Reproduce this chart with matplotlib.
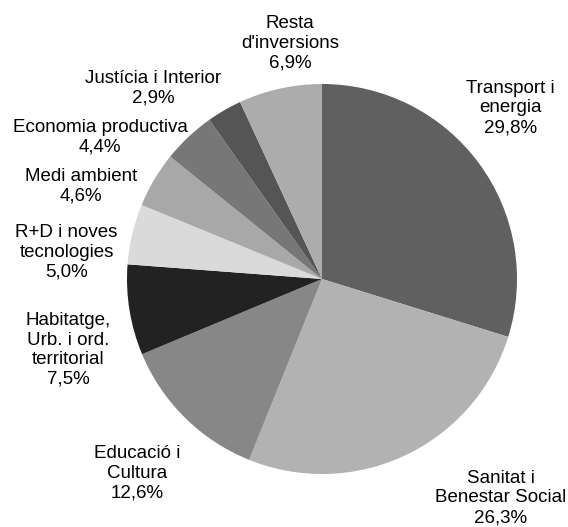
import matplotlib
matplotlib.use("Agg")
import matplotlib.pyplot as plt

plt.rcParams["font.family"] = ["Liberation Sans", "DejaVu Sans"]

# Distribució de les inversions per àmbits (%)
categories = [
    "Transport i\nenergia",
    "Sanitat i\nBenestar Social",
    "Educació i\nCultura",
    "Habitatge,\nUrb. i ord.\nterritorial",
    "R+D i noves\ntecnologies",
    "Medi ambient",
    "Economia productiva",
    "Justícia i Interior",
    "Resta\nd'inversions",
]
values = [29.8, 26.3, 12.6, 7.5, 5.0, 4.6, 4.4, 2.9, 6.9]
value_labels = ["29,8%", "26,3%", "12,6%", "7,5%", "5,0%", "4,6%", "4,4%", "2,9%", "6,9%"]

colors = ["#606060", "#b2b2b2", "#878787", "#222222", "#dadada",
          "#a8a8a8", "#777777", "#555555", "#acacac"]

# posició dels rètols (unitats del radi)
label_xy = [(0.968, 0.877), (0.918, -1.123), (-0.946, -0.995),
            (-1.303, -0.364), (-1.310, 0.138), (-1.236, 0.477),
            (-1.138, 0.728), (-0.867, 0.977), (-0.164, 1.210)]

fig = plt.figure(figsize=(5.68, 5.27), dpi=100)
ax = fig.add_axes([0, 0, 1, 1])

ax.pie(values, colors=colors, startangle=90, counterclock=False,
       radius=1.0, wedgeprops=dict(linewidth=0))

for name, lab, (x, y) in zip(categories, value_labels, label_xy):
    ax.text(x, y, name + "\n" + lab, ha="center", va="center",
            multialignment="center", fontsize=13.5, color="black",
            linespacing=1.2)

ax.set_xlim(-322 / 195, (568 - 322) / 195)
ax.set_ylim(-(527 - 279) / 195, 279 / 195)
ax.set_aspect("equal")
ax.axis("off")

fig.savefig("out.png", dpi=100, facecolor="white")
